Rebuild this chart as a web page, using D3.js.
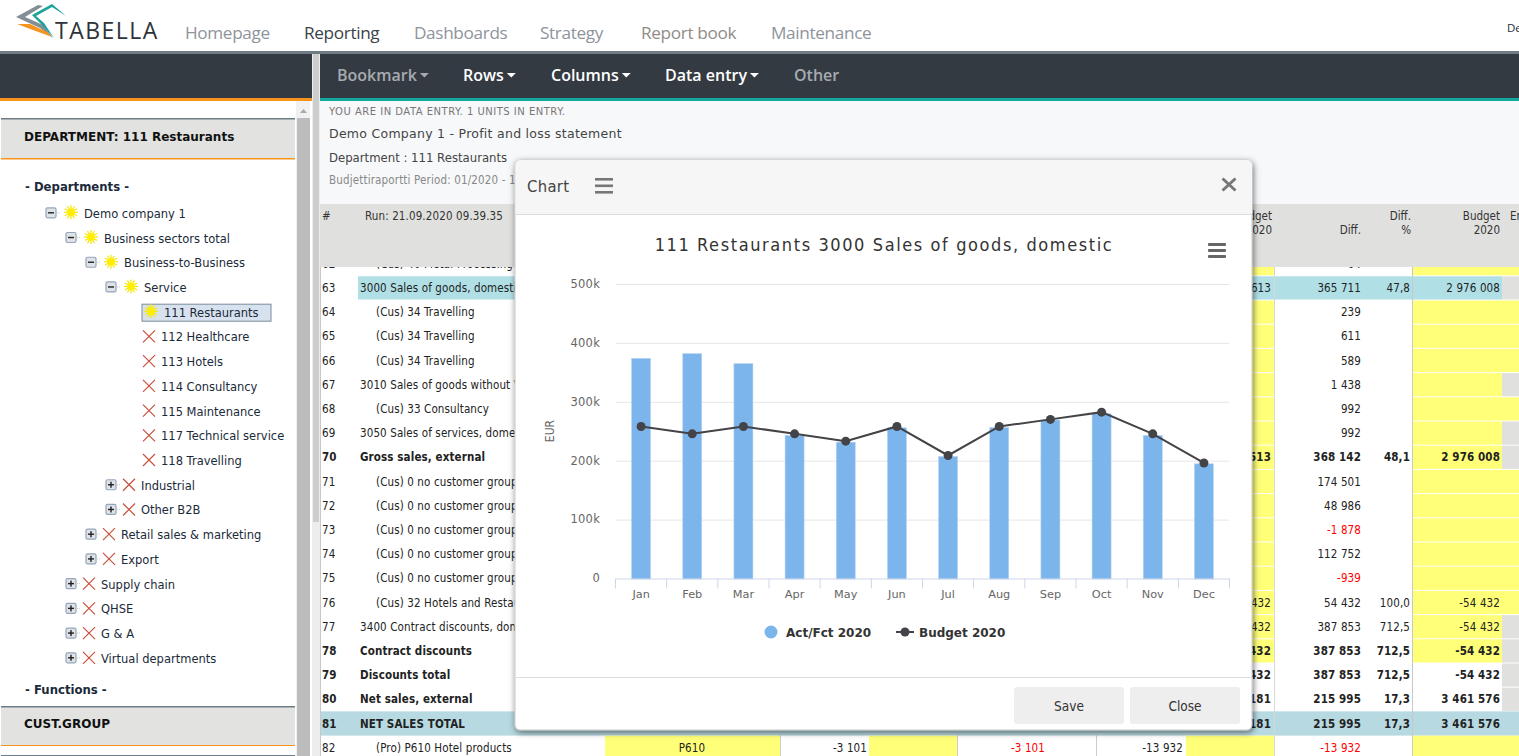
<!DOCTYPE html>
<html>
<head>
<meta charset="utf-8">
<title>Tabella chart</title>
<script src="https://cdn.jsdelivr.net/npm/d3@7"></script>
<style>
html, body { margin: 0; padding: 0; background: #fff; overflow: hidden; }
svg { display: block; }
text { font-family: "Liberation Sans", Arial, sans-serif; }
.ui { font-family: "DejaVu Sans Condensed", "DejaVu Sans", sans-serif; }
.wide { font-family: "DejaVu Sans", sans-serif; }
.nav { font-family: "Open Sans", sans-serif; }
</style>
</head>
<body>
<div id="page"></div>
<script>
// chart data
var months = ["Jan", "Feb", "Mar", "Apr", "May", "Jun", "Jul", "Aug", "Sep", "Oct", "Nov", "Dec"];
var actFct = [374600, 382600, 365600, 243700, 232300, 256800, 208000, 257000, 270000, 280600, 243700, 195600];
var budget = [259000, 246500, 259000, 246500, 234000, 259000, 209700, 259000, 271000, 283300, 246500, 197000];
var yTicks = [0, 100000, 200000, 300000, 400000, 500000];

// top menus
var topMenu = ["Homepage", "Reporting", "Dashboards", "Strategy", "Report book", "Maintenance"];
var topMenuX = [185, 304, 414, 540, 641, 771];
var subMenu = ["Bookmark", "Rows", "Columns", "Data entry", "Other"];
var subMenuX = [337, 463, 551, 665, 794];

// department tree
var treeLabels = ["Demo company 1", "Business sectors total", "Business-to-Business", "Service", "111 Restaurants",
    "112 Healthcare", "113 Hotels", "114 Consultancy", "115 Maintenance", "117 Technical service", "118 Travelling",
    "Industrial", "Other B2B", "Retail sales & marketing", "Export", "Supply chain", "QHSE", "G & A", "Virtual departments"];
var treeLevels = [0, 1, 2, 3, 4, 4, 4, 4, 4, 4, 4, 3, 3, 2, 2, 1, 1, 1, 1];
var treeOpen = ["-", "-", "-", "-", "", "", "", "", "", "", "", "+", "+", "+", "+", "+", "+", "+", "+"];
var treeActive = [1, 1, 1, 1, 1, 0, 0, 0, 0, 0, 0, 0, 0, 0, 0, 0, 0, 0, 0];

// report rows
var rowNumbers = [62, 63, 64, 65, 66, 67, 68, 69, 70, 71, 72, 73, 74, 75, 76, 77, 78, 79, 80, 81];
var rowLabels = ["(Cus) 40 Metal Processing", "3000 Sales of goods, domestic", "(Cus) 34 Travelling", "(Cus) 34 Travelling", "(Cus) 34 Travelling",
    "3010 Sales of goods without VAT", "(Cus) 33 Consultancy", "3050 Sales of services, domestic", "Gross sales, external",
    "(Cus) 0 no customer group", "(Cus) 0 no customer group", "(Cus) 0 no customer group", "(Cus) 0 no customer group", "(Cus) 0 no customer group",
    "(Cus) 32 Hotels and Restaurants", "3400 Contract discounts, domestic", "Contract discounts", "Discounts total", "Net sales, external", "NET SALES TOTAL"];
var rowIndent = [1, 0, 1, 1, 1, 0, 1, 0, 0, 1, 1, 1, 1, 1, 1, 0, 0, 0, 0, 0];
var rowBold = [0, 0, 0, 0, 0, 0, 0, 0, 1, 0, 0, 0, 0, 0, 0, 0, 1, 1, 1, 1];
var rowPrev = ["", "613", "", "", "", "", "", "", "513", "", "", "", "", "", "432", "432", "432", "432", "181", "181"];
var rowDiff = ["64", "365 711", "239", "611", "589", "1 438", "992", "992", "368 142", "174 501", "48 986", "-1 878", "112 752", "-939", "54 432", "387 853", "387 853", "387 853", "215 995", "215 995"];
var rowPct = ["", "47,8", "", "", "", "", "", "", "48,1", "", "", "", "", "", "100,0", "712,5", "712,5", "712,5", "17,3", "17,3"];
var rowBudget = ["", "2 976 008", "", "", "", "", "", "", "2 976 008", "", "", "", "", "", "-54 432", "-54 432", "-54 432", "-54 432", "3 461 576", "3 461 576"];
var rowEndGray = [0, 1, 0, 0, 0, 1, 0, 1, 1, 0, 0, 0, 0, 0, 0, 1, 1, 1, 1, 0];
var rowKind = ["y", "b", "y", "y", "y", "y", "y", "y", "y", "y", "y", "y", "y", "y", "y", "y", "y", "w", "w", "t"];

var svg = d3.select("#page").append("svg").attr("width", 1519).attr("height", 756);
var defs = svg.append("defs");
var shadow = defs.append("filter").attr("id", "shadow").attr("x", "-5%").attr("y", "-5%").attr("width", "110%").attr("height", "110%");
shadow.append("feDropShadow").attr("dx", 1).attr("dy", 2).attr("stdDeviation", 3).attr("flood-color", "#000").attr("flood-opacity", 0.55);

function label(g, x, y, txt, size, color, opts) {
    opts = opts || {};
    return g.append("text").attr("class", opts.cls || "ui").attr("x", x).attr("y", y)
        .attr("dy", "0.35em").attr("text-anchor", opts.anchor || "start")
        .attr("font-size", size).attr("font-weight", opts.weight || "normal")
        .attr("letter-spacing", opts.spacing || 0).attr("fill", color).text(txt);
}
function box(g, x, y, w, h, fill) {
    return g.append("rect").attr("x", x).attr("y", y).attr("width", w).attr("height", h).attr("fill", fill);
}

// ---------- header ----------
var head = svg.append("g");
var logo = head.append("g");
logo.append("path").attr("d", "M16 17 L38 5 L43 6 L25 17 L43 25 L53 38 L40 28 Z").attr("fill", "#838f94");
logo.append("path").attr("d", "M32 15 L52 4 L66 16 L52 7 L36 16 L44 23 L54 38 L41 24 Z").attr("fill", "#1ba39c");
logo.append("path").attr("d", "M17 24 L30 24 L47 32 L52 37 L33 30 Z").attr("fill", "#f7941d");
label(head, 55, 31, "TABELLA", 23, "#2d3338", {cls: "nav", spacing: 1.5});
head.selectAll("text.menu").data(topMenu).enter().append("text").attr("class", "nav menu")
    .attr("x", function(d, i) { return topMenuX[i]; }).attr("y", 33).attr("dy", "0.35em")
    .attr("font-size", 17.2).attr("letter-spacing", -0.35)
    .attr("fill", function(d) { return d == "Reporting" ? "#3a424a" : (d == "Report book" ? "#8f8c88" : "#8e949b"); })
    .text(function(d) { return d; });
label(head, 1507, 28, "De", 11.5, "#1c2c3c", {cls: "nav"});

box(svg, 0, 51, 1519, 3, "#6f7c85");
box(svg, 0, 54, 312, 44, "#343a42");
box(svg, 320, 54, 1199, 44, "#343a42");
box(svg, 0, 98, 312, 3, "#f7941d");
box(svg, 320, 98, 1199, 3, "#12a89d");

var sub = svg.append("g");
subMenu.forEach(function(m, i) {
    var on = (m != "Bookmark" && m != "Other");
    var t = label(sub, subMenuX[i], 75.5, m, 16, on ? "#ffffff" : "#a6abb0", {cls: "nav", weight: 600});
    if (m != "Other") {
        var end = t.node().getComputedTextLength() + subMenuX[i] + 3;
        sub.append("path").attr("d", "M" + end + " 73 h9 l-4.5 4.5 z").attr("fill", on ? "#fff" : "#a6abb0");
    }
});

// ---------- left panel ----------
var left = svg.append("g");
box(left, 0, 101, 312, 655, "#ffffff");
box(left, 1, 118, 294, 40, "#e2e2e0");
box(left, 1, 118, 294, 1.5, "#6f7c85");
box(left, 1, 158, 294, 1.5, "#f7941d");
label(left, 24, 136.5, "DEPARTMENT: 111 Restaurants", 12, "#111", {weight: "bold", cls: "wide"});
label(left, 25, 186.5, "- Departments -", 11.7, "#1b2a3a", {weight: "bold", cls: "wide"});
label(left, 25, 689.5, "- Functions -", 11.7, "#1b2a3a", {weight: "bold", cls: "wide"});
box(left, 1, 706, 294, 39, "#e2e2e0");
box(left, 1, 706, 294, 1.5, "#6f7c85");
box(left, 1, 745, 294, 1, "#f7941d");
box(left, 1, 755, 294, 1, "#6f7c85");
label(left, 24, 723.5, "CUST.GROUP", 12, "#111", {weight: "bold", cls: "wide"});

// scrollbars
box(left, 296, 101, 14, 655, "#f1f1f1");
box(left, 297, 118, 13, 638, "#bcbcbc");
left.append("path").attr("d", "M300 113 h7 l-3.5 -4 z").attr("fill", "#a8a8a8");
box(svg, 312, 54, 8, 702, "#ededed");
box(svg, 313, 54, 6, 468, "#cdcdcd");

var treeY = d3.scaleLinear().domain([0, treeLabels.length - 1]).range([213.8, 658.8]);
var levelX = d3.scaleLinear().domain([0, 4]).range([51, 131]);
var tree = left.selectAll("g.node").data(treeLabels).enter().append("g").attr("class", "node")
    .attr("transform", function(d, i) { return "translate(" + levelX(treeLevels[i]) + "," + treeY(i) + ")"; });

tree.each(function(d, i) {
    var g = d3.select(this);
    var on = treeActive[i];
    if (treeOpen[i] != "") {
        g.append("rect").attr("x", -5).attr("y", -6).attr("width", 10).attr("height", 10).attr("rx", 1.5)
            .attr("fill", "#dfe2e6").attr("stroke", "#93a6ba").attr("stroke-width", 1.2);
        g.append("rect").attr("x", -3).attr("y", -1.7).attr("width", 6).attr("height", 1.4).attr("fill", "#222");
        if (treeOpen[i] == "+") g.append("rect").attr("x", -0.7).attr("y", -4).attr("width", 1.4).attr("height", 6).attr("fill", "#222");
        g.append("line").attr("x1", 6).attr("x2", 10).attr("y1", -1).attr("y2", -1).attr("stroke", "#ccc").attr("stroke-dasharray", "1,1");
    }
    if (d == "111 Restaurants") {
        g.append("rect").attr("x", 11).attr("y", -8.5).attr("width", 129).attr("height", 17).attr("fill", "#d8e2ee").attr("stroke", "#7a8b9c");
    }
    var ix = on ? 20 : 18;
    if (on) {
        var rays = d3.range(12);
        g.selectAll("line.ray").data(rays).enter().append("line").attr("class", "ray")
            .attr("x1", ix).attr("y1", -1.5)
            .attr("x2", function(r) { return ix + 7 * Math.cos(r * Math.PI / 6); })
            .attr("y2", function(r) { return -1.5 + 7 * Math.sin(r * Math.PI / 6); })
            .attr("stroke", "#f7e600").attr("stroke-width", 1.2);
        g.append("circle").attr("cx", ix).attr("cy", -1.5).attr("r", 3.8).attr("fill", "#ffee00");
    } else {
        g.append("path").attr("d", "M" + (ix - 6) + " -7 L" + (ix + 6) + " 5 M" + (ix - 6) + " 5 L" + (ix + 6) + " -7")
            .attr("stroke", "#c8503c").attr("stroke-width", 1.2).attr("fill", "none");
    }
    label(g, on ? 33 : 30, 0, d, 11.5, "#1b2a3a", {cls: "wide"});
});

// ---------- report ----------
var rep = svg.append("g");
box(rep, 320, 101, 1199, 103, "#f7f8fa");
label(rep, 329, 111.5, "YOU ARE IN DATA ENTRY. 1 UNITS IN ENTRY.", 10, "#777", {cls: "wide", spacing: 0.5});
label(rep, 329, 133.5, "Demo Company 1 - Profit and loss statement", 12.5, "#444", {cls: "wide", spacing: 0.27});
label(rep, 329, 157.5, "Department : 111 Restaurants", 11.7, "#444", {cls: "wide"});
label(rep, 329, 179.5, "Budjettiraportti Period: 01/2020 - 12/2020", 11.5, "#888", {spacing: 0.15});

var rowY = d3.scaleLinear().domain([62, 82]).range([263.7, 747.7]);
var rowH = 24.2;
var yellow = "#ffff78";
var blue = "#b0e0e6";
var total = "#b7d9e1";
var gray = "#e0e0de";
var body = rep.append("g");
box(body, 320, 204, 1199, 552, "#ffffff");

function rowText(x, y, txt, color, weight, anchor) {
    label(body, x, y, txt, 11.5, color, {weight: weight, anchor: anchor, spacing: 0.12});
}

rowNumbers.forEach(function(n, i) {
    var y = rowY(n);
    var top = y - rowH / 2 + 0.5;
    var h = rowH - 1;
    var kind = rowKind[i];
    var bold = rowBold[i] ? "bold" : "normal";
    if (kind == "t") box(body, 320, top - 0.5, 1199, rowH, total);
    if (kind == "b") {
        box(body, 358, top, 160, h, blue);
        box(body, 1275, top, 137, h, blue);
        box(body, 1252, top, 22, h, blue);
        box(body, 1413, top, 89, h, blue);
    }
    if (kind == "y") {
        box(body, 1252, top, 22, h, yellow);
        box(body, 1413, top, rowEndGray[i] ? 89 : 106, h, yellow);
    }
    if (rowEndGray[i]) box(body, 1502, top, 17, h, gray);
    rowText(322, y, n, "#222", bold);
    rowText(rowIndent[i] ? 376 : 360, y, rowLabels[i], "#222", bold);
    rowText(1271, y, rowPrev[i], "#222", bold, "end");
    rowText(1361, y, rowDiff[i], rowDiff[i][0] == "-" ? "#f00" : "#222", bold, "end");
    rowText(1410, y, rowPct[i], "#222", bold, "end");
    rowText(1500, y, rowBudget[i], "#222", bold, "end");
});

// last visible row, it has its own columns
var y82 = rowY(82);
box(body, 605, y82 - 12, 175, 24, yellow);
box(body, 869, y82 - 12, 88, 24, yellow);
box(body, 1186, y82 - 12, 88, 24, yellow);
box(body, 1413, y82 - 12, 106, 24, yellow);
rowText(322, y82, 82, "#222");
rowText(376, y82, "(Pro) P610 Hotel products", "#222");
rowText(692, y82, "P610", "#222", "normal", "middle");
rowText(867, y82, "-3 101", "#222", "normal", "end");
rowText(1045, y82, "-3 101", "#f00", "normal", "end");
rowText(1183, y82, "-13 932", "#222", "normal", "end");
rowText(1361, y82, "-13 932", "#f00", "normal", "end");

// column lines
box(body, 1274, 267, 1, 489, "#d8d8d8");
box(body, 1412, 267, 1, 489, "#c8c8c8");
box(body, 780, 735, 1, 21, "#ccc");
box(body, 957, 735, 1, 21, "#ccc");
box(body, 1096, 735, 1, 21, "#ccc");
box(body, 320, 204, 1, 552, "#c8c8c8");

// table head over the rows
box(rep, 320, 204, 1199, 63, gray);
label(rep, 322, 215.5, "#", 11.5, "#333");
label(rep, 365, 215.5, "Run: 21.09.2020 09.39.35", 11.5, "#333", {spacing: 0.12});
label(rep, 1272, 215.5, "Budget", 11.5, "#333", {anchor: "end"});
label(rep, 1272, 229.5, "2020", 11.5, "#333", {anchor: "end"});
label(rep, 1361, 229.5, "Diff.", 11.5, "#333", {anchor: "end"});
label(rep, 1411, 215.5, "Diff.", 11.5, "#333", {anchor: "end"});
label(rep, 1411, 229.5, "%", 11.5, "#333", {anchor: "end"});
label(rep, 1500, 215.5, "Budget", 11.5, "#333", {anchor: "end"});
label(rep, 1500, 229.5, "2020", 11.5, "#333", {anchor: "end"});
label(rep, 1510, 215.5, "En", 11.5, "#333");

// ---------- modal ----------
var modal = svg.append("g");
modal.append("rect").attr("x", 515).attr("y", 160).attr("width", 737).attr("height", 570).attr("rx", 5)
    .attr("fill", "#fff").attr("stroke", "#c8c8c8").attr("filter", "url(#shadow)");
modal.append("path").attr("d", "M515.5 214 V165 a5 5 0 0 1 5 -5 H1247 a5 5 0 0 1 5 5 V214 Z").attr("fill", "#f6f6f6");
box(modal, 515, 214, 737, 1, "#ddd");
label(modal, 527, 186.5, "Chart", 16.5, "#444", {spacing: 0.3});
[178, 184.5, 191].forEach(function(y) { box(modal, 595, y, 18, 2.6, "#777"); });
modal.append("path").attr("d", "M1222.5 178.5 L1235.5 190.5 M1222.5 190.5 L1235.5 178.5").attr("stroke", "#777").attr("stroke-width", 3).attr("fill", "none");

// chart title
label(modal, 884, 245, "111 Restaurants 3000 Sales of goods, domestic", 18, "#333", {anchor: "middle", spacing: 1.6});
[243, 249, 255].forEach(function(y) { modal.append("rect").attr("x", 1208).attr("y", y).attr("width", 18).attr("height", 3).attr("rx", 1).attr("fill", "#666"); });

var x = d3.scaleBand().domain(months).range([615.5, 1229.5]);
var y = d3.scaleLinear().domain([0, 500000]).range([579, 284.5]);

var yAxis = d3.axisLeft(y).tickValues(yTicks).tickSize(0).tickPadding(0)
    .tickFormat(function(d) { return d == 0 ? "0" : (d / 1000) + "k"; });
var yg = modal.append("g").attr("transform", "translate(600,0)").call(yAxis);
yg.select(".domain").remove();
yg.selectAll("text").attr("class", "wide").attr("font-size", 11.5).attr("letter-spacing", 0.2).attr("fill", "#666").attr("dy", "0.25em");

modal.append("g").selectAll("line").data(yTicks.slice(1)).enter().append("line")
    .attr("x1", 616).attr("x2", 1229).attr("y1", function(d) { return y(d); }).attr("y2", function(d) { return y(d); })
    .attr("stroke", "#e6e6e6");

label(modal, 550, 431, "EUR", 12, "#666", {anchor: "middle", cls: "ui"})
    .attr("transform", "rotate(-90 550 431)").attr("y", 431);

// bars
modal.append("g").selectAll("rect").data(actFct).enter().append("rect")
    .attr("x", function(d, i) { return x(months[i]) + x.bandwidth() / 2 - 9.5; })
    .attr("width", 19)
    .attr("y", function(d) { return y(d); })
    .attr("height", function(d) { return y(0) - y(d); })
    .attr("fill", "#7cb5ec").attr("stroke", "#b8d4f0").attr("stroke-width", 0.6);

// x axis, ticks sit between the months
var xAxis = d3.axisBottom(x).tickSize(0).tickPadding(11);
var xg = modal.append("g").attr("transform", "translate(0,578.5)").call(xAxis);
xg.select(".domain").attr("stroke", "#ccd6eb");
xg.selectAll("text").attr("class", "wide").attr("font-size", 11.3).attr("fill", "#666");
xg.selectAll("line.between").data(d3.range(months.length + 1)).enter().append("line").attr("class", "between")
    .attr("x1", function(d) { return x.range()[0] + d * x.step(); })
    .attr("x2", function(d) { return x.range()[0] + d * x.step(); })
    .attr("y1", 0).attr("y2", 10).attr("stroke", "#ccd6eb");

// budget line
var line = d3.line().x(function(d, i) { return x(months[i]) + x.bandwidth() / 2; }).y(function(d) { return y(d); });
modal.append("path").datum(budget).attr("d", line).attr("fill", "none").attr("stroke", "#434348").attr("stroke-width", 2);
modal.append("g").selectAll("circle").data(budget).enter().append("circle")
    .attr("cx", function(d, i) { return x(months[i]) + x.bandwidth() / 2; })
    .attr("cy", function(d) { return y(d); })
    .attr("r", 4.5).attr("fill", "#434348");

// legend
modal.append("circle").attr("cx", 771).attr("cy", 632).attr("r", 6.5).attr("fill", "#7cb5ec");
label(modal, 786, 632.5, "Act/Fct 2020", 12, "#333", {weight: "bold", cls: "wide"});
modal.append("line").attr("x1", 896).attr("x2", 914).attr("y1", 632).attr("y2", 632).attr("stroke", "#434348").attr("stroke-width", 2);
modal.append("circle").attr("cx", 905).attr("cy", 632).attr("r", 4.5).attr("fill", "#434348");
label(modal, 919, 632.5, "Budget 2020", 12, "#333", {weight: "bold", cls: "wide"});

// footer
box(modal, 516, 677, 736, 1, "#ddd");
[["Save", 1014], ["Close", 1130]].forEach(function(b) {
    modal.append("rect").attr("x", b[1]).attr("y", 687).attr("width", 110).attr("height", 37).attr("rx", 3).attr("fill", "#eeeeee");
    label(modal, b[1] + 55, 706, b[0], 13.5, "#333", {anchor: "middle"});
});
</script>
</body>
</html>
